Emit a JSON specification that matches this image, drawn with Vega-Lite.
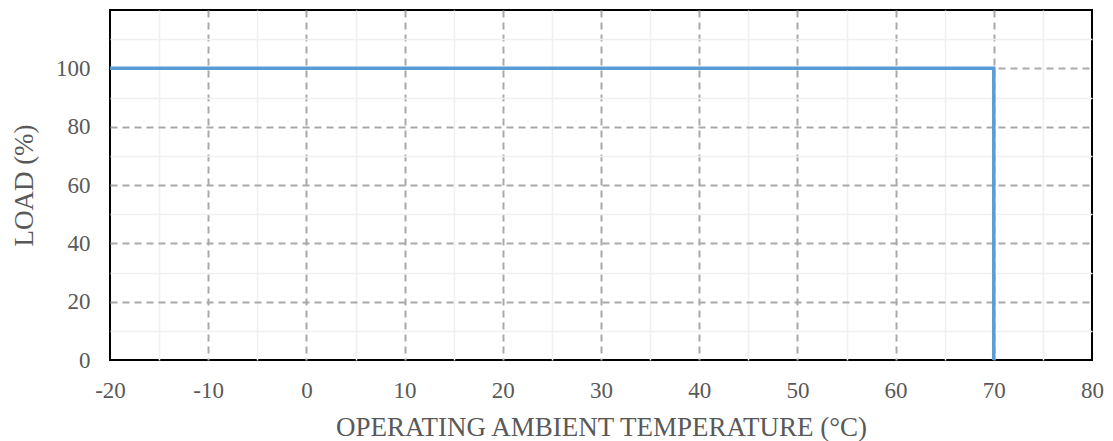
{
  "$schema": "https://vega.github.io/schema/vega-lite/v6.json",
  "autosize": {"type": "none"},
  "padding": {"left": 110, "top": 10, "right": 21, "bottom": 81},
  "width": 982,
  "height": 350,
  "config": {
    "view": {"stroke": "black", "strokeWidth": 2},
    "font": "Liberation Serif",
    "axis": {
      "domain": false,
      "ticks": false,
      "labelFont": "Liberation Serif",
      "titleFont": "Liberation Serif",
      "labelFontSize": 23,
      "titleFontSize": 27,
      "labelColor": "#595959",
      "titleColor": "#595959",
      "titleFontWeight": "normal"
    }
  },
  "data": {
    "values": [
      {"i": 0, "t": -20, "load": 100},
      {"i": 1, "t": 70, "load": 100},
      {"i": 2, "t": 70, "load": 0}
    ]
  },
  "mark": {"type": "line", "color": "#5B9BD5", "strokeWidth": 3.5, "clip": true},
  "encoding": {
    "x": {
      "field": "t",
      "type": "quantitative",
      "scale": {"domain": [-20, 80], "nice": false, "zero": false},
      "axis": {
        "title": "OPERATING AMBIENT TEMPERATURE (°C)",
        "values": [-20, -15, -10, -5, 0, 5, 10, 15, 20, 25, 30, 35, 40, 45, 50, 55, 60, 65, 70, 75, 80],
        "labelExpr": "datum.value % 10 === 0 ? toString(datum.value) : ''",
        "labelPadding": 19,
        "titlePadding": 12,
        "gridColor": {"condition": {"test": "datum.value % 10 === 0", "value": "#A9A9A9"}, "value": "#F0F0F0"},
        "gridDash": {"condition": {"test": "datum.value % 10 === 0", "value": [7, 5]}, "value": []},
        "gridWidth": {"condition": {"test": "datum.value % 10 === 0", "value": 2}, "value": 1.5},
        "gridOpacity": {"condition": {"test": "datum.value === -20 || datum.value === 80", "value": 0}, "value": 1},
        "labelFlush": false,
        "labelOverlap": false
      }
    },
    "y": {
      "field": "load",
      "type": "quantitative",
      "scale": {"domain": [0, 120], "nice": false},
      "axis": {
        "title": "LOAD (%)",
        "values": [0, 10, 20, 30, 40, 50, 60, 70, 80, 90, 100, 110],
        "labelExpr": "datum.value % 20 === 0 ? toString(datum.value) : ''",
        "labelPadding": 20,
        "titlePadding": 17,
        "gridColor": {"condition": {"test": "datum.value % 20 === 0", "value": "#A9A9A9"}, "value": "#F0F0F0"},
        "gridDash": {"condition": {"test": "datum.value % 20 === 0", "value": [7, 5]}, "value": []},
        "gridWidth": {"condition": {"test": "datum.value % 20 === 0", "value": 2}, "value": 1.5},
        "gridOpacity": {"condition": {"test": "datum.value === 0", "value": 0}, "value": 1},
        "labelOverlap": false
      }
    },
    "order": {"field": "i", "type": "quantitative"}
  }
}
